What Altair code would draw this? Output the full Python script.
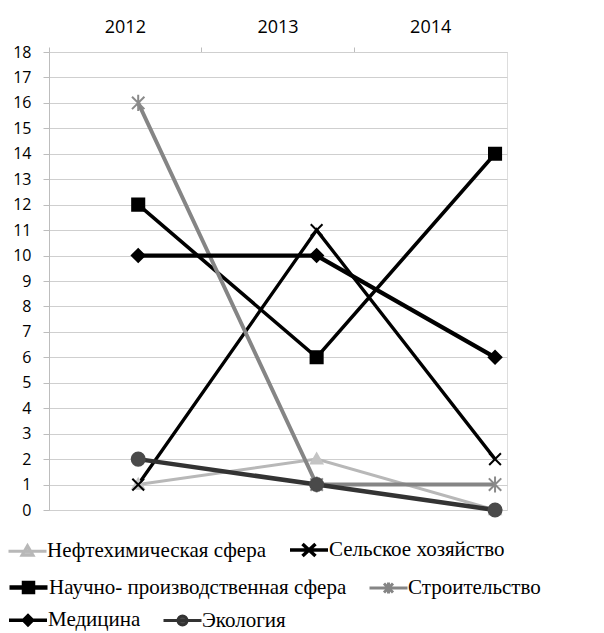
import altair as alt
import pandas as pd

years = [2012, 2013, 2014]
series = ["Нефтехимическая сфера", "Сельское хозяйство", "Научно- производственная сфера",
          "Строительство", "Медицина", "Экология"]
neft = [1, 2, 0]
selsk = [1, 11, 2]
nauch = [12, 6, 14]
stroit = [16, 1, 1]
medic = [10, 10, 6]
ecol = [2, 1, 0]
values = [neft, selsk, nauch, stroit, medic, ecol]

rows = []
for s, vals in zip(series, values):
    for yr, v in zip(years, vals):
        rows.append({"series": s, "year": yr, "value": v})
df = pd.DataFrame(rows)
axis_df = pd.DataFrame({"label": [str(y) for y in years]})

line_colors = ["#b8b8b8", "#000000", "#000000", "#858585", "#000000", "#333333"]
marker_fill = ["#c4c4c4", "#000000", "#000000", "#8a8a8a", "#000000", "#4a4a4a"]
line_widths = [3, 4.5, 4.5, 3, 3.5, 3]
legend_widths = [3, 3.5, 4.5, 3, 3.5, 3]
marker_shapes = ["M0,-1L1,0.75L-1,0.75Z", "M-1,-1L1,1M-1,1L1,-1", "square",
                 "M-1,-1L1,1M-1,1L1,-1M0,-1.3L0,1.3", "diamond", "circle"]
marker_sizes = [130, 170, 190, 170, 170, 180]
legend_paths = [
    "M-1.1,0L2.7,0M0.8,-0.55L1.35,0.4L0.25,0.4Z",
    "M-1.1,0L2.7,0M0.15,-0.6L1.45,0.6M0.15,0.6L1.45,-0.6",
    "M-1.1,0L2.7,0M0.35,-0.45L1.25,-0.45L1.25,0.45L0.35,0.45Z",
    "M-1.1,0L2.7,0M0.35,-0.45L1.25,0.45M0.35,0.45L1.25,-0.45M0.8,-0.55L0.8,0.55",
    "M-1.1,0L2.7,0M0.8,-0.45L1.25,0L0.8,0.45L0.35,0Z",
    "M-1.1,0L2.7,0M1.25,0A0.45,0.45,0,1,1,0.35,0A0.45,0.45,0,1,1,1.25,0Z",
]
legend_rows_y = [486, 523, 556]

W, H = 458, 458
x_q = alt.X("year:Q", scale=alt.Scale(domain=[2011.5, 2014.067], nice=False, zero=False), axis=None)
y_q = alt.Y("value:Q", scale=alt.Scale(domain=[0, 18], nice=False, zero=True),
            axis=alt.Axis(values=list(range(19)), title=None, grid=True, gridColor="#cfcfcf",
                          domainColor="#bdbdbd", tickColor="#bdbdbd", tickSize=6,
                          labelFont="Open Sans", labelFontSize=16,
                          labelColor="#000", labelPadding=12))

lines = alt.Chart(df).mark_line().encode(
    x=x_q, y=y_q,
    color=alt.Color("series:N", scale=alt.Scale(domain=series, range=line_colors), legend=None),
    strokeWidth=alt.StrokeWidth("series:N", scale=alt.Scale(domain=series, range=line_widths), legend=None),
)

points = alt.Chart(df).mark_point(filled=True, opacity=1, strokeWidth=2).encode(
    x=x_q, y=y_q,
    fill=alt.Fill("series:N", scale=alt.Scale(domain=series, range=marker_fill), legend=None),
    stroke=alt.Stroke("series:N", scale=alt.Scale(domain=series, range=marker_fill), legend=None),
    shape=alt.Shape("series:N", scale=alt.Scale(domain=series, range=marker_shapes), legend=None),
    size=alt.Size("series:N", scale=alt.Scale(domain=series, range=marker_sizes), legend=None),
)

legend_layers = []
for r in range(3):
    dom = series[2 * r:2 * r + 2]
    leg = alt.Legend(title=None, orient="none", legendX=-41, legendY=legend_rows_y[r],
                     direction="horizontal", columnPadding=16,
                     labelFont="Liberation Serif", labelFontSize=21,
                     labelColor="#000", labelLimit=500, symbolSize=400, labelOffset=16,
                     symbolOpacity=1)
    legend_layers.append(
        alt.Chart(df).transform_filter("false").mark_point(filled=True, size=400, opacity=1).encode(
            fill=alt.Fill("series:N", scale=alt.Scale(domain=dom, range=marker_fill[2 * r:2 * r + 2]), legend=leg),
            stroke=alt.Stroke("series:N", scale=alt.Scale(domain=dom, range=line_colors[2 * r:2 * r + 2]), legend=leg),
            shape=alt.Shape("series:N", scale=alt.Scale(domain=dom, range=legend_paths[2 * r:2 * r + 2]), legend=leg),
            strokeWidth=alt.StrokeWidth("series:N", scale=alt.Scale(domain=dom, range=legend_widths[2 * r:2 * r + 2]), legend=leg),
        )
    )

top_axis = alt.Chart(axis_df).mark_bar(opacity=0).encode(
    x=alt.X("label:O", scale=alt.Scale(paddingInner=0, paddingOuter=0),
            axis=alt.Axis(orient="top", title=None, labelAngle=0, bandPosition=0,
                          labelFont="Open Sans", labelFontSize=18,
                          labelColor="#000", tickColor="#bdbdbd", tickSize=5, labelPadding=11,
                          domainColor="#cfcfcf", grid=False)),
)

chart = alt.layer(top_axis, lines, points, *legend_layers).resolve_scale(
    x="independent", fill="independent", stroke="independent", shape="independent",
    size="independent", strokeWidth="independent", color="independent",
).properties(
    width=W, height=H, padding={"left": 0, "top": 10, "right": 0, "bottom": 0}
).configure_view(strokeWidth=0, stroke="transparent").configure(background="white")

chart.save("out.html", embed_options={"renderer": "svg", "actions": False})
